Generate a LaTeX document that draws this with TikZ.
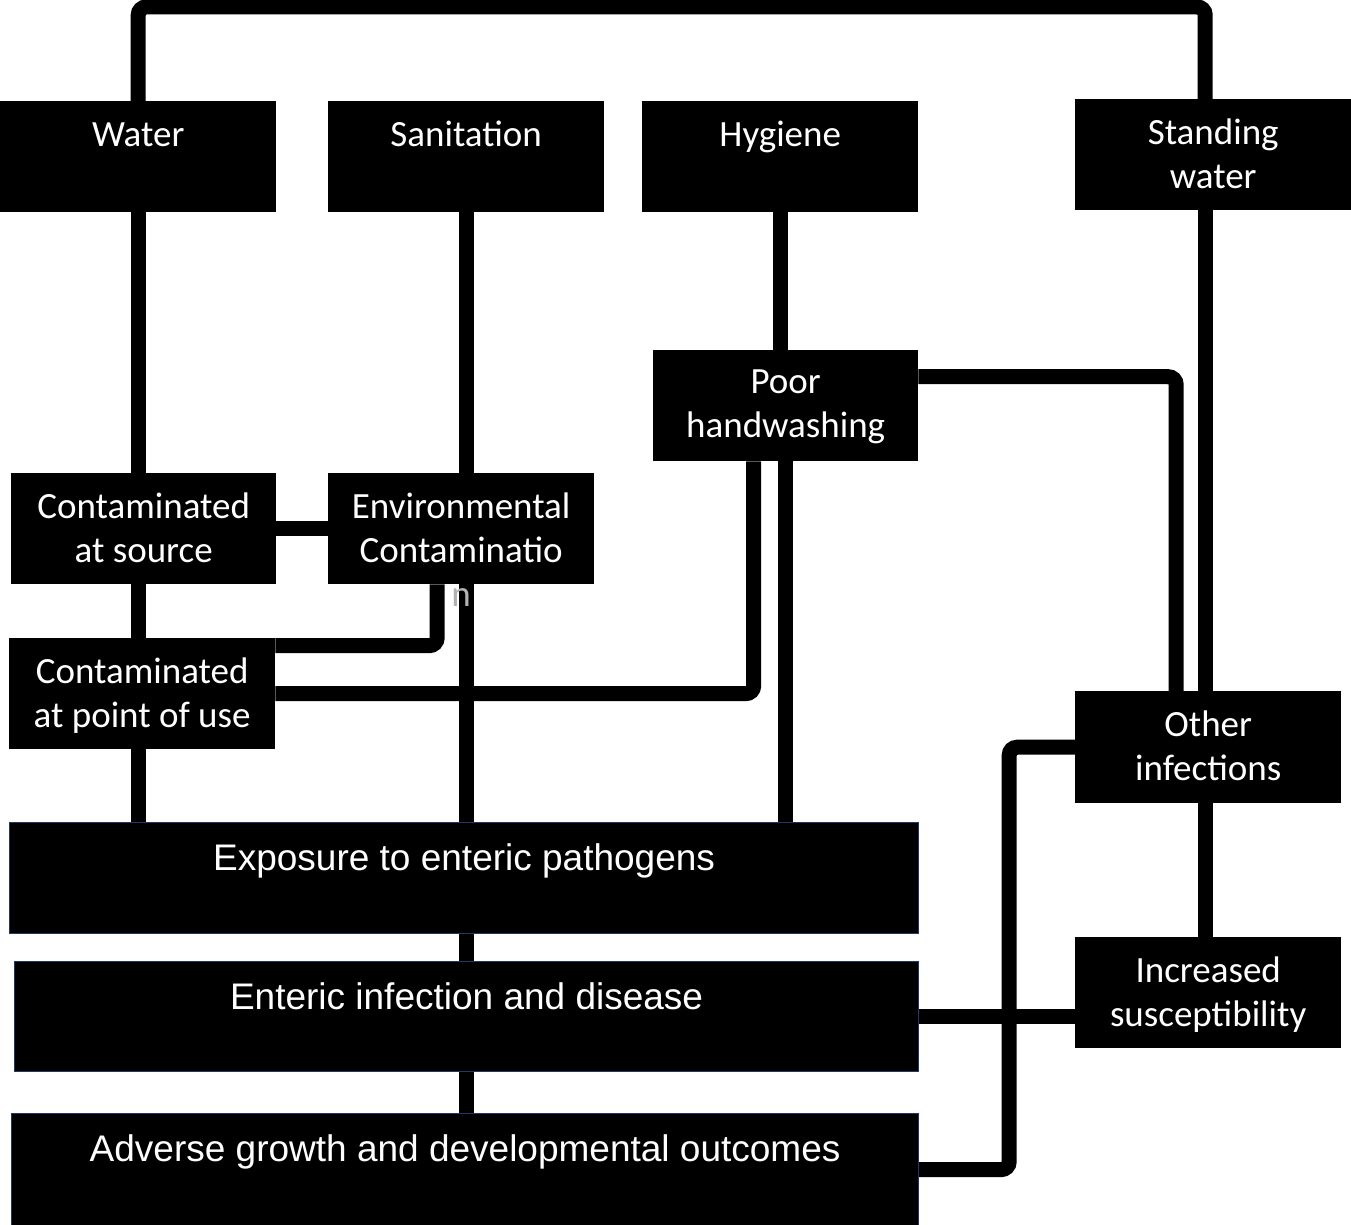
\documentclass[tikz,border=0pt]{standalone}
\usepackage{fontspec}
\setmainfont{Carlito}
\newfontfamily\arialfont{Liberation Sans}
\usetikzlibrary{calc,backgrounds}
\definecolor{navyline}{RGB}{31,56,100}
\tikzset{
  box/.style={fill=black, inner sep=0pt, anchor=north west},
  wbox/.style={box, draw=navyline, line width=1.2pt},
  lbl/.style={text=white, align=center, inner sep=0pt, anchor=north, yshift=-20pt,
    font=\fontsize{37}{44}\selectfont},
  wlbl/.style={text=white, align=center, inner sep=0pt, anchor=north, yshift=-21.5pt,
    font=\arialfont\fontsize{37}{44}\selectfont},
  link/.style={line width=15pt, rounded corners=8pt}
}

\begin{document}
\begin{tikzpicture}[x=1pt,y=-1pt]
  \useasboundingbox (0,0) rectangle (1351,1225);

  % top row
  \node[box, minimum width=276pt, minimum height=111pt, label={[lbl,yshift=-2pt]north:Water}] (water) at (0,101) {};
  \node[box, minimum width=276pt, minimum height=111pt, label={[lbl]north:Sanitation}] (sanit) at (328,101) {};
  \node[box, minimum width=276pt, minimum height=111pt, label={[lbl]north:Hygiene}] (hyg) at (642,101) {};
  \node[box, minimum width=276pt, minimum height=111pt, label={[lbl]north:Standing\\water}] (stand) at (1075,99) {};

  % middle
  \node[box, minimum width=265pt, minimum height=111pt, label={[lbl]north:Poor\\handwashing}] (poor) at (653,350) {};
  \node[box, minimum width=265pt, minimum height=111pt, label={[lbl]north:Contaminated\\at source}] (src) at (11,473) {};
  \node[box, minimum width=266pt, minimum height=111pt,
        label={[lbl]north:Environmental\\Contaminatio\\{\color{gray!60}n}}] (env) at (328,473) {};
  \node[box, minimum width=266pt, minimum height=111pt, label={[lbl]north:Contaminated\\at point of use}] (pou) at (9,638) {};
  \node[box, minimum width=266pt, minimum height=112pt, label={[lbl]north:Other\\infections}] (other) at (1075,691) {};
  \node[box, minimum width=266pt, minimum height=111pt, label={[lbl]north:Increased\\susceptibility}] (incr) at (1075,937) {};

  % outcome chain
  \node[wbox, minimum width=909pt, minimum height=111pt, label={[wlbl]north:Exposure to enteric pathogens}] (expo) at (9,822) {};
  \node[wbox, minimum width=904pt, minimum height=110pt, label={[wlbl]north:Enteric infection and disease}] (ent) at (14,961) {};
  \node[wbox, minimum width=907pt, minimum height=112pt, label={[wlbl]north:Adverse growth and developmental outcomes}] (adv) at (11,1113) {};

  \begin{pgfonlayer}{background}
    \draw[link] (water.south) -- (water.south |- expo.north);
    \draw[link] (sanit.south) -- (sanit.south |- adv.north);
    \draw[link] (hyg.south) -- (hyg.south |- poor.north);
    \draw[link] (poor.south) -- (poor.south |- expo.north);
    \draw[link] (water.north) -- ++(0,-94) -| ([xshift=-8pt]stand.north);
    \draw[link] ([xshift=-8pt]stand.south) -- ([xshift=-8pt]stand.south |- incr.north);
    \draw[link] (src.east) -- (env.west);
    \draw[link] ([yshift=48pt]pou.east) -| ([xshift=-24pt]env.south);
    \draw[link] (pou.east) -| ([xshift=-32pt]poor.south);
    \draw[link] ([yshift=29pt]poor.east) -| ([xshift=-32pt]other.north);
    \draw[link] (other.west) -| ($(adv.east)+(90,0)$) -- (adv.east);
    \draw[link] (ent.east) -- (ent.east -| incr.west);
  \end{pgfonlayer}
\end{tikzpicture}
\end{document}
